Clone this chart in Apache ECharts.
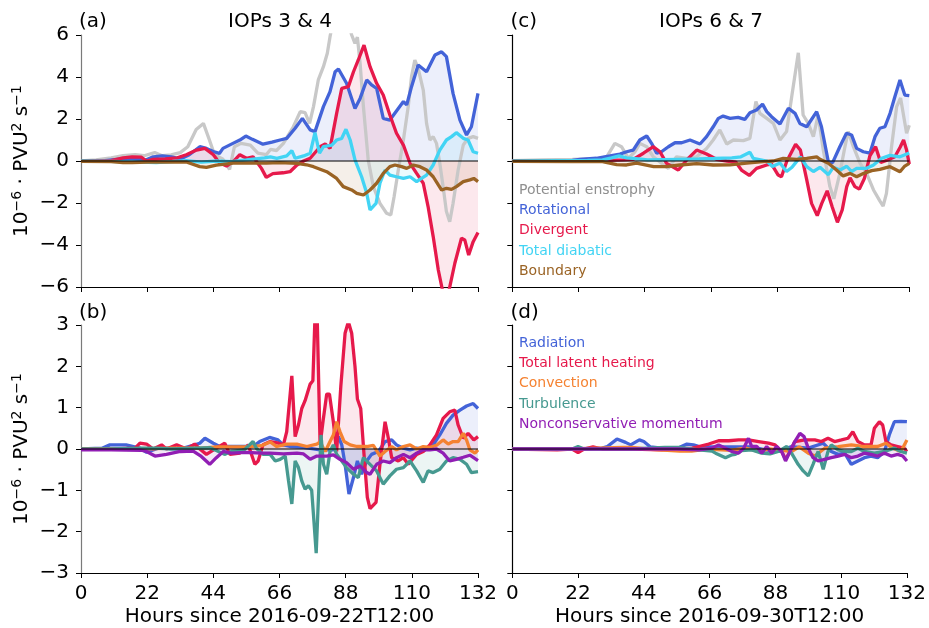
<!DOCTYPE html>
<html>
<head>
<meta charset="utf-8">
<script src="https://cdn.jsdelivr.net/npm/echarts@6/dist/echarts.min.js"></script>
<style>
  html, body { margin: 0; padding: 0; background: #fff; }
  #chart { width: 929px; height: 628px; }
</style>
</head>
<body>
<div id="chart"></div>
<script>
// Hours since start of each case, ticks every 22 h
const hourTicks = [0, 22, 44, 66, 88, 110, 132];

// ---- Enstrophy budget, IOPs 3 & 4 (panel a): [hour, value] ----
const enstrophyA = [[0,0],[5,0.05],[10,0.15],[14,0.25],[18,0.3],[21,0.25],[24.5,0.4],[27,0.25],[30,0.29],[33,0.4],[35.5,0.68],[38.3,1.5],[40.7,1.79],[42.7,1.0],[44.4,0.3],[47.1,0.1],[49.4,-0.4],[51,0.68],[53.2,0.84],[56.3,0.76],[58.8,0.37],[61.6,0.3],[63,0.55],[65,0.5],[67.3,0.84],[70.6,1.63],[72.9,2.35],[74.5,2.3],[76,1.79],[77.3,2.59],[78.9,3.86],[80.6,4.49],[81.9,5.13],[82.8,5.92],[84,6.8],[85.5,7.5],[87.5,7.2],[89,6.5],[90,6.0],[91.1,5.6],[91.9,5.9],[92.8,4.65],[93.9,2.59],[95.5,0.05],[97.2,-1.22],[99.4,-2.02],[101.6,-2.49],[103,-2.57],[104.1,-1.7],[105.5,-0.43],[107.2,1.0],[108.8,2.59],[109.9,4.02],[111,4.81],[112.1,4.41],[113.8,3.38],[114.9,1.79],[116,1.0],[117.1,1.16],[118.2,0.84],[119.3,-0.11],[120.4,-1.22],[121.5,-2.41],[122.6,-2.89],[123.7,-2.02],[125.4,-0.43],[127.1,0.76],[128.7,1.08],[130.4,1.16],[132,1.08]];
const rotationalA = [[0,0],[8,0.02],[12,0.08],[16,0.12],[19,0.08],[21.5,0.05],[24,0.2],[27,0.24],[30,0.2],[33,0.1],[36,0.3],[39.5,0.68],[41.7,0.6],[44,0.45],[46,0.36],[47.2,0.6],[50.5,0.84],[52.8,1.0],[54.8,1.19],[57,1.03],[60.5,0.8],[63.5,0.9],[66.2,1.0],[68.4,1.08],[71.2,1.56],[73.6,2.03],[76.2,1.48],[77.8,1.4],[80.6,2.59],[82.8,3.3],[84.5,4.25],[85.6,4.38],[88.3,3.7],[91.1,2.5],[92.8,2.98],[95,3.86],[96.6,3.62],[98.3,3.46],[100.5,2.03],[102.7,1.95],[105.5,2.5],[107.2,2.83],[108.3,2.67],[109.9,3.54],[112.1,4.57],[114.9,4.25],[117.7,5.05],[119.9,5.2],[121.5,4.97],[123.7,3.22],[126,1.95],[128.2,1.24],[129.8,1.63],[132,3.22]];
const divergentA = [[0,0],[10,0.02],[14,0.15],[17,0.2],[20,0.18],[21.8,0.0],[24,0.08],[28,0.1],[32,0.15],[35,0.3],[38.4,0.52],[41.2,0.6],[44,0.3],[46.1,-0.1],[48.4,-0.24],[50.6,-0.03],[52.8,0.3],[55,0.13],[57.2,0.2],[60,-0.35],[61.6,-0.78],[63.8,-0.6],[67.2,-0.56],[69.5,-0.51],[71.8,-0.19],[74,0.0],[76.2,0.13],[79.5,0.68],[81.2,0.81],[82.8,0.6],[85,2.27],[86.7,3.46],[88.9,3.54],[90.6,4.25],[92.2,4.81],[94.1,5.52],[96.1,4.49],[98.3,3.7],[100.5,3.14],[102.7,2.19],[104.9,1.32],[107.2,0.76],[109.4,-0.11],[111.6,-0.59],[113.8,-1.06],[115.4,-2.17],[117.1,-3.6],[118.8,-5.19],[120.4,-6.3],[122.3,-6.2],[124.3,-4.87],[126.5,-3.68],[127.6,-3.76],[128.9,-4.48],[130.4,-3.84],[132,-3.4]];
const diabaticA = [[0,0],[10,-0.02],[20,-0.05],[25,-0.08],[30,-0.03],[35,0.02],[40,-0.05],[45,0.0],[50,-0.03],[55,0.05],[58,0.1],[61,0.15],[63,0.2],[65.1,0.13],[68.4,0.24],[70.1,0.49],[71.2,0.13],[74,0.24],[76.2,0.37],[77.8,1.35],[79.3,0.37],[80.6,0.68],[83.4,0.76],[85,1.0],[86.7,1.08],[88.1,1.51],[89.5,1.0],[91.1,0.05],[93.3,-0.75],[95,-1.54],[96.1,-2.33],[98.1,-2.02],[99.4,-1.06],[101.1,-0.43],[102.7,-0.67],[104.9,-0.75],[107.2,-0.83],[109.4,-0.75],[111.6,-0.98],[113.2,-0.83],[114.9,-0.67],[117.1,-0.19],[119.3,0.52],[121.5,1.0],[123.2,1.16],[124.8,1.35],[127.1,1.08],[128.7,1.0],[130.4,0.44],[132,0.37]];
const boundaryA = [[0,-0.02],[10,-0.03],[14,-0.08],[17,-0.08],[22,-0.05],[30,-0.05],[35,-0.05],[39.5,-0.27],[41.7,-0.3],[45,-0.2],[50.6,-0.1],[56,-0.1],[61.6,-0.1],[66,-0.08],[71.8,-0.11],[75,-0.18],[77.3,-0.27],[81.7,-0.51],[85,-0.83],[87.2,-1.22],[90,-1.38],[91.7,-1.54],[93.9,-1.62],[96.1,-1.38],[98.3,-1.06],[100.5,-0.59],[102.7,-0.27],[104.4,-0.19],[106.6,-0.27],[108.3,-0.35],[110.5,-0.19],[112.7,-0.27],[114.9,-0.43],[117.1,-0.75],[118.8,-1.14],[119.9,-1.38],[121.5,-1.3],[123.2,-1.35],[124.8,-1.22],[127.1,-0.98],[129.3,-0.9],[130.6,-0.83],[132,-0.98]];

// ---- Enstrophy budget, IOPs 6 & 7 (panel c) ----
const enstrophyC = [[0,0.02],[10,0.05],[20,0.08],[25,0.1],[28,0.1],[31.4,0.2],[34.1,0.84],[36.3,0.68],[38.6,0.13],[40.8,0.44],[42.4,0.84],[44.7,0.68],[46.9,0.2],[49.6,-0.1],[51.9,-0.35],[54.6,0.2],[58,0.13],[61.3,0.2],[64.6,0.6],[66.8,1.0],[69,1.48],[71.3,0.81],[73.5,1.0],[76.8,0.97],[79,1.08],[81,2.83],[82.3,2.27],[84.6,2.03],[86.8,1.79],[89,1.0],[91.2,1.4],[92.9,3.06],[95.1,5.15],[96.7,2.19],[98.4,1.79],[100.1,1.16],[101.7,2.19],[103.4,0.52],[105.6,-1.22],[106.9,-1.8],[108.9,-0.59],[110.6,0.68],[111.7,1.4],[113.4,0.68],[115.6,-0.1],[117.8,-0.59],[120.1,-1.38],[122.2,-1.9],[123.3,-2.15],[124.4,-1.54],[126.1,0.68],[127.8,2.59],[129.1,3.0],[131.1,1.32],[132,1.7]];
const rotationalC = [[0,0],[10,0.0],[20,0.03],[22.5,0.08],[28,0.13],[32.5,0.24],[35.8,0.33],[38,0.44],[40.2,0.52],[42.4,1.0],[44.7,1.19],[46.3,0.84],[48,0.37],[49.6,0.44],[51.9,0.68],[54.1,0.87],[56.3,0.87],[59.1,1.0],[62.4,0.81],[64.6,1.16],[66.8,1.63],[68.5,2.03],[70.1,2.14],[72.4,2.03],[75.1,2.08],[77.3,1.98],[79,2.3],[81.2,2.43],[83.2,2.71],[84.6,2.35],[86.2,2.11],[89,1.76],[91.8,2.51],[94,2.27],[95.6,1.79],[97.9,1.63],[101.2,2.35],[102.8,1.63],[105.1,-0.05],[106.5,-0.08],[108.9,0.68],[111.1,1.32],[112.8,1.24],[114.5,0.6],[116.7,0.44],[118.9,0.37],[120.6,1.16],[122.2,1.56],[123.9,1.63],[125.6,2.27],[127.2,3.06],[128.9,3.86],[130.5,3.14],[132,3.11]];
const divergentC = [[0,0],[20,0.0],[30,0.02],[36.9,0.05],[40.2,0.08],[43.6,0.37],[46.9,0.68],[49.1,0.44],[51.3,-0.11],[55.2,-0.43],[58,0.05],[61.3,0.52],[64.6,0.33],[67.9,0.08],[71.3,0.0],[74.3,-0.05],[76.3,-0.45],[78.8,-0.69],[81.2,-0.35],[84.6,-0.19],[86.2,-0.15],[88.4,-0.67],[89.5,-0.75],[91.3,0.0],[94.2,0.8],[95.8,0.52],[97.9,-0.9],[99.5,-2.02],[101.4,-2.6],[102.9,-2.02],[104.7,-1.42],[106.4,-2.2],[108.1,-2.92],[109.7,-2.33],[111.2,-1.22],[112.3,-0.8],[113.9,-1.22],[115.4,-1.34],[117.1,-0.82],[118.9,0.25],[120.8,0.68],[122.5,-0.07],[124.8,0.05],[127.2,0.2],[128.9,0.64],[130.1,1.0],[131.1,0.52],[132,-0.15]];
const diabaticC = [[0,0],[15,0.02],[25,0.03],[30,0.05],[33,0.15],[35.5,0.24],[38,0.15],[42,0.1],[45,0.05],[55,0.08],[62,0.1],[67,0.12],[73,0.15],[76,0.2],[79,0.42],[80.1,0.13],[84.6,0.0],[86.5,-0.26],[89,-0.1],[91.2,-0.5],[93,-0.3],[94.5,-0.03],[95.8,0.2],[97.9,-0.27],[100.1,-0.5],[102.3,-0.3],[105.1,-0.65],[106.7,-0.3],[109,-0.43],[111.2,-0.25],[112.8,-0.5],[114.5,-0.35],[117.8,-0.35],[120,-0.2],[122.8,0.13],[125.6,0.27],[128.9,0.2],[132,0.38]];
const boundaryC = [[0,-0.02],[20,-0.03],[30,-0.03],[34.7,-0.17],[38,-0.19],[41.3,-0.1],[47,-0.27],[51,-0.27],[55.7,-0.19],[61.3,-0.12],[66.8,-0.19],[72.4,-0.18],[77.9,-0.1],[83.4,-0.03],[86.8,0.0],[90.1,0.13],[94.5,0.08],[97.9,0.12],[101.2,0.2],[102.3,0.08],[105.1,-0.11],[107.8,-0.43],[110,-0.71],[112.3,-0.59],[114.5,-0.75],[116.7,-0.6],[119.5,-0.46],[122.2,-0.4],[125.6,-0.27],[128.9,-0.51],[130.5,-0.24],[132,-0.11]];

// ---- Diabatic components, IOPs 3 & 4 (panel b) ----
const radiationB = [[0,0],[7,0.02],[9.6,0.1],[15,0.1],[19.6,0.02],[21.8,-0.08],[26.2,0.03],[33,0.0],[39.5,0.14],[41.2,0.26],[44,0.14],[46.1,0.06],[50.6,0.06],[57.2,0.06],[59.4,0.18],[62.7,0.28],[65.5,0.22],[67.2,0.1],[69.5,0.06],[74,0.04],[79.5,-0.02],[83.9,-0.02],[85.6,0.3],[86.7,0.1],[87.8,-0.37],[89.1,-1.09],[90.6,-0.69],[91.9,-0.29],[93.3,-0.61],[95,-0.29],[96.6,-0.13],[98.9,-0.06],[101.1,0.18],[103.3,0.22],[104.9,0.1],[107.2,0.02],[109.4,-0.02],[111.6,0.02],[114.4,-0.02],[117.1,0.1],[119.3,0.34],[121.5,0.62],[123.7,0.82],[126,0.94],[128.2,1.04],[130.4,1.1],[132,0.98]];
const latentB = [[0,0],[10,0.0],[18,0.02],[19.6,0.14],[21.8,0.12],[24,0.0],[26.8,0.1],[28.4,0.0],[31.8,0.1],[35.1,0.0],[37.8,0.12],[39.5,0.0],[41.7,-0.13],[45,0.02],[47.8,0.14],[49.5,-0.13],[52.8,-0.1],[55.6,0.1],[57.8,-0.37],[58.9,-0.29],[60.5,0.1],[62.9,0.18],[65.7,0.14],[67.3,0.1],[68.4,0.42],[70.1,1.77],[71.2,0.3],[72.3,0.58],[73.4,0.98],[74.5,1.17],[75.1,1.17],[76.2,1.57],[77.1,1.65],[77.8,3.2],[78.5,3.3],[79.5,0.1],[80.6,0.74],[81.7,1.33],[82.6,1.33],[83.9,0.66],[85,-0.06],[86.4,1.53],[87.8,2.8],[88.9,3.08],[90,2.8],[91.1,2.0],[91.9,1.21],[93,0.98],[94.1,-0.13],[95.2,-1.17],[96.1,-1.44],[98.1,-1.29],[99.4,-0.37],[101.1,0.66],[102.2,0.26],[103.3,-0.21],[105.5,-0.29],[107.2,-0.21],[108.8,-0.37],[111.6,-0.13],[113.8,-0.06],[116,0.1],[118.2,0.34],[120.4,0.74],[122.6,0.9],[124.3,0.94],[125.4,0.58],[127.1,0.26],[128.7,0.38],[130.6,0.22],[132,0.3]];
const convectionB = [[0,0],[20,0.0],[30,0.02],[40,0.02],[45,0.05],[55,0.05],[60,0.08],[62.9,0.17],[65.1,0.06],[68.4,0.12],[71.8,0.12],[75.1,0.06],[78.4,0.12],[79.5,0.17],[81.2,-0.06],[82.8,0.18],[83.9,0.34],[85,0.66],[86.1,0.42],[87.5,0.18],[89.5,0.1],[91.7,0.06],[95,0.06],[97.2,0.09],[99.4,-0.17],[101.1,-0.06],[103.3,0.06],[104.9,-0.02],[107.2,0.06],[109.4,0.1],[111.6,0.0],[113.8,0.06],[116,0.04],[118.2,0.09],[120.4,0.22],[122.1,0.12],[123.7,0.18],[125.4,0.18],[127.1,0.38],[128.2,0.22],[129.3,-0.02],[131,-0.1],[132,-0.02]];
const turbulenceB = [[0,0],[10,0.0],[20,0.02],[25,0.02],[30,0.0],[38,0.02],[43,0.03],[47.7,-0.13],[50,-0.06],[54.3,-0.02],[57.2,0.18],[58.3,0.02],[60.5,-0.13],[62.9,-0.13],[64.6,-0.29],[66.2,-0.25],[67.9,-0.17],[69,-0.77],[70.1,-1.33],[71.2,-0.29],[72.3,-0.45],[73.4,-0.77],[74.5,-0.97],[75.6,-0.89],[76.7,-1.0],[77.5,-1.8],[78.2,-2.52],[79,-1.09],[79.8,0.34],[80.6,-0.37],[81.7,-0.61],[82.8,-0.06],[83.9,0.1],[85,-0.13],[86.7,-0.29],[88.3,-0.45],[90.6,-0.61],[92.2,-0.69],[93.9,-0.21],[96.1,-0.37],[98.3,-0.53],[100.5,-0.85],[102.7,-0.65],[104.9,-0.49],[107.2,-0.45],[109.4,-0.29],[111.6,-0.53],[113.8,-0.81],[115.4,-0.53],[117.1,-0.57],[119.3,-0.49],[121.5,-0.29],[123.7,-0.21],[126,-0.25],[128.2,-0.37],[129.8,-0.57],[132,-0.55]];
const momentumB = [[0,-0.02],[10,-0.02],[20,-0.03],[21.8,-0.06],[24.6,-0.17],[28.4,-0.13],[33,-0.06],[37.3,-0.05],[40,-0.18],[42.8,-0.37],[45,-0.21],[47.3,-0.06],[50,-0.1],[55,-0.08],[60,-0.1],[62.9,-0.1],[67.3,-0.12],[71.8,-0.1],[74,-0.12],[76.2,-0.25],[78.4,-0.17],[81.7,-0.17],[83.9,-0.14],[86.1,-0.25],[88.3,-0.33],[90.6,-0.49],[92.8,-0.41],[95,-0.57],[96.1,-0.61],[98.3,-0.37],[100.5,-0.29],[102.7,-0.33],[104.9,-0.21],[107.2,-0.13],[109.4,-0.21],[111.6,-0.1],[113.8,-0.02],[116,-0.02],[118.2,0.0],[120.4,-0.1],[122.6,-0.29],[124.8,-0.25],[127.1,-0.2],[129.3,-0.15],[132,-0.28]];

// ---- Diabatic components, IOPs 6 & 7 (panel d) ----
const radiationD = [[0,0],[20,0.0],[30,0.02],[31.8,0.06],[35,0.24],[37.9,0.16],[39.6,0.1],[42.5,0.22],[44,0.18],[46.2,0.05],[50,0.02],[56,0.04],[58.4,0.12],[60.6,0.1],[62.8,0.05],[66.8,0.05],[73.5,0.05],[80.1,0.05],[84.6,-0.02],[89,-0.06],[93.4,0.06],[99,0.02],[104,0.14],[106.7,-0.06],[109,-0.13],[111.2,-0.1],[113.4,-0.37],[115.6,-0.29],[117.8,-0.21],[120,-0.17],[122.2,-0.21],[124.5,-0.06],[126.1,0.34],[127.8,0.66],[130,0.67],[132,0.66]];
const latentD = [[0,0],[15,-0.02],[20,0.0],[22,-0.09],[24,0.0],[27,0.05],[30,0.0],[40,0.0],[50,-0.02],[56,0.0],[60.2,0.02],[62.4,0.06],[65.7,0.12],[69,0.2],[72.4,0.2],[75.7,0.22],[79,0.22],[82.4,0.18],[85.7,0.14],[87.9,0.1],[90.1,-0.06],[91.4,-0.25],[92.9,-0.06],[94.5,0.18],[97.9,0.22],[101.2,0.22],[103.4,0.18],[105.6,0.26],[107.8,0.18],[110.1,0.22],[112.3,0.26],[113.9,0.42],[115.6,0.18],[117.8,0.1],[120,0.1],[121.1,0.5],[122.8,0.66],[123.9,0.58],[125,0.18],[126.7,0.1],[128.9,0.06],[131.1,0.02],[132,-0.06]];
const convectionD = [[0,0],[20,0.0],[37,0.04],[40,0.04],[45,0.0],[56,-0.05],[60,-0.05],[65,0.0],[73.5,-0.03],[78,0.02],[82,-0.05],[86,0.0],[90,-0.03],[93.4,-0.06],[96,0.05],[99,-0.1],[101.2,-0.17],[104.5,0.02],[109,0.06],[113.4,0.1],[117.8,0.06],[122.2,0.06],[125,0.14],[127.2,0.02],[130,-0.06],[132,0.22]];
const turbulenceD = [[0,0],[20,0.0],[22,0.06],[24,0.0],[40,0.0],[51,0.04],[56,0.04],[62.4,-0.02],[66.8,-0.05],[68,-0.1],[71.3,-0.21],[73.5,-0.14],[74.6,-0.13],[76.8,-0.04],[80.1,-0.02],[83.4,-0.1],[86.2,-0.12],[89,-0.06],[91.8,0.06],[93.4,-0.1],[95.6,-0.37],[97.3,-0.53],[99,-0.65],[100.6,-0.37],[102.3,-0.06],[104,-0.49],[105.6,-0.06],[106.7,0.1],[109,-0.02],[111.2,-0.06],[113.4,-0.06],[115.6,0.02],[117.8,-0.06],[121.1,-0.1],[124.5,-0.06],[127.8,0.02],[130,-0.06],[132,-0.1]];
const momentumD = [[0,0],[20,0.0],[40,0.0],[55,0.0],[62.4,-0.02],[66.8,0.02],[69,0.1],[71.3,0.02],[73.5,-0.06],[75.7,-0.1],[77.4,0.02],[79,0.26],[80.1,0.06],[81.8,0.06],[83.4,-0.1],[85.1,0.06],[86.8,-0.1],[88.4,0.06],[90.1,-0.06],[91.4,-0.29],[92.9,-0.06],[94.5,0.18],[96.2,0.38],[97.6,0.3],[99,0.02],[100.6,-0.21],[102.3,-0.29],[104.5,-0.25],[106.7,-0.21],[109,-0.17],[111.2,-0.13],[113.4,-0.21],[115.6,-0.17],[117.8,-0.1],[120,-0.13],[122.2,-0.17],[124.5,-0.1],[126.7,-0.17],[128.9,-0.13],[130.6,-0.17],[132,-0.29]];

// Series names, colours
const budgetNames = ['Potential enstrophy', 'Rotational', 'Divergent', 'Total diabatic', 'Boundary'];
const budgetColors = ['#c8c8c8', '#4363d8', '#e6194b', '#42d4f4', '#9a6324'];
const budgetLegendColors = ['#8f8f8f', '#4363d8', '#e6194b', '#42d4f4', '#9a6324'];
const diabaticNames = ['Radiation', 'Total latent heating', 'Convection', 'Turbulence', 'Nonconservative momentum'];
const diabaticColors = ['#4363d8', '#e6194b', '#f58231', '#469990', '#911eb4'];

const FONT = 'DejaVu Sans';
const panels = [
  { top: 35, left: 81, yMin: -6, yMax: 6, yStep: 2, yLabels: true, xLabels: false, spine: '#7a7a7a' },
  { top: 35, left: 512.3, yMin: -6, yMax: 6, yStep: 2, yLabels: false, xLabels: false, spine: '#000' },
  { top: 325, left: 81, yMin: -3, yMax: 3, yStep: 1, yLabels: true, xLabels: true, spine: '#7a7a7a', xName: 'Hours since 2016-09-22T12:00' },
  { top: 325, left: 512.3, yMin: -3, yMax: 3, yStep: 1, yLabels: false, xLabels: true, spine: '#000', xName: 'Hours since 2016-09-30T12:00' }
];

const yName = '{b|10}{s|\u22126}{b| \u00b7 PVU}{s|2}{b| s}{s|\u22121}';

const grid = panels.map(p => ({ left: p.left, top: p.top, width: 397, height: 252, containLabel: false }));
const xAxis = panels.map((p, i) => ({
  type: 'value', gridIndex: i, min: 0, max: 132, interval: 22,
  axisLine: { show: true, onZero: false, lineStyle: { color: '#000', width: 1 } },
  axisTick: { show: true, length: 5, lineStyle: { color: '#000', width: 1 } },
  axisLabel: { show: p.xLabels, fontSize: 20, fontFamily: FONT, color: '#000', margin: 11 },
  splitLine: { show: false },
  name: p.xName || '', nameLocation: 'middle', nameGap: 34,
  nameTextStyle: { fontSize: 20, fontFamily: FONT, color: '#000' }
}));
const yAxis = panels.map((p, i) => ({
  type: 'value', gridIndex: i, min: p.yMin, max: p.yMax, interval: p.yStep, offset: 3,
  axisLine: { show: true, lineStyle: { color: p.spine, width: 1.2 } },
  axisTick: { show: true, length: 5, lineStyle: { color: '#000', width: 1 } },
  axisLabel: { show: p.yLabels, fontSize: 20, fontFamily: FONT, color: '#000', margin: 9,
    formatter: v => String(v).replace('-', '\u2212') },
  splitLine: { show: false },
  name: p.yLabels ? yName : '', nameLocation: 'middle', nameRotate: 90, nameGap: 42,
  nameTextStyle: {
    color: '#000', fontFamily: FONT,
    rich: {
      b: { fontSize: 20, fontFamily: FONT, color: '#000', lineHeight: 28 },
      s: { fontSize: 14, fontFamily: FONT, color: '#000', verticalAlign: 'top', lineHeight: 14, padding: [2, 0, 0, 0] }
    }
  }
}));

function lineSeries(name, data, color, gi, filled) {
  return {
    type: 'line', name, data, xAxisIndex: gi, yAxisIndex: gi,
    showSymbol: false, symbol: 'none', smooth: false, clip: true,
    lineStyle: { color, width: 3.3 }, itemStyle: { color },
    areaStyle: filled ? { color, opacity: 0.1, origin: 0 } : undefined,
    emphasis: { disabled: true }, silent: true
  };
}
function zeroLine(gi) {
  return {
    type: 'line', name: 'zero', data: [[0, 0], [132, 0]], xAxisIndex: gi, yAxisIndex: gi,
    symbol: 'none', lineStyle: { color: '#000', width: 1 }, z: 10, silent: true
  };
}

const budgetA = [enstrophyA, rotationalA, divergentA, diabaticA, boundaryA];
const budgetC = [enstrophyC, rotationalC, divergentC, diabaticC, boundaryC];
const diabB = [radiationB, latentB, convectionB, turbulenceB, momentumB];
const diabD = [radiationD, latentD, convectionD, turbulenceD, momentumD];

const series = [];
budgetA.forEach((d, k) => series.push(lineSeries(budgetNames[k], d, budgetColors[k], 0, k > 0)));
series.push(zeroLine(0));
budgetC.forEach((d, k) => series.push(lineSeries(budgetNames[k], d, budgetColors[k], 1, k > 0)));
series.push(zeroLine(1));
diabB.forEach((d, k) => series.push(lineSeries(diabaticNames[k], d, diabaticColors[k], 2, true)));
series.push(zeroLine(2));
diabD.forEach((d, k) => series.push(lineSeries(diabaticNames[k], d, diabaticColors[k], 3, true)));
series.push(zeroLine(3));

const legendBase = {
  orient: 'vertical', icon: 'none', itemWidth: 0, itemHeight: 14, itemGap: 6.3,
  textStyle: { fontSize: 14, fontFamily: FONT }, padding: 0
};

const panelText = (text, x, y, align) => ({
  type: 'text', x, y, silent: true,
  style: { text, fontSize: 20, fontFamily: FONT, fill: '#000', align, verticalAlign: 'middle' }
});

const chart = echarts.init(document.getElementById('chart'), null, { renderer: 'canvas' });
chart.setOption({
  animation: false,
  backgroundColor: '#fff',
  grid, xAxis, yAxis, series,
  legend: [
    Object.assign({}, legendBase, {
      left: 514, top: 183,
      data: budgetNames.map((n, k) => ({ name: n, textStyle: { color: budgetLegendColors[k] } }))
    }),
    Object.assign({}, legendBase, {
      left: 514, top: 336,
      data: diabaticNames.map((n, k) => ({ name: n, textStyle: { color: diabaticColors[k] } }))
    })
  ],
  graphic: [
    panelText('(a)', 79, 22, 'left'),
    panelText('IOPs 3 & 4', 280, 22, 'center'),
    panelText('(c)', 510.5, 22, 'left'),
    panelText('IOPs 6 & 7', 711, 22, 'center'),
    panelText('(b)', 79, 313, 'left'),
    panelText('(d)', 510.5, 313, 'left')
  ]
});
</script>
</body>
</html>
